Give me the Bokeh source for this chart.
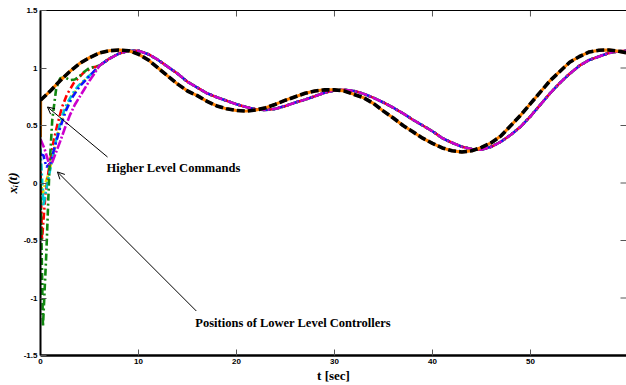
from bokeh.plotting import figure
from bokeh.models import Range1d, LinearAxis, FixedTicker, Label, Arrow, OpenHead
from bokeh.embed import file_html
from bokeh.resources import INLINE

# ---------------- data ----------------
x_ticks = [0, 10, 20, 30, 40, 50, 60]
x_tick_labels = ["0", "10", "20", "30", "40", "50", "60"]
y_ticks = [-1.5, -1, -0.5, 0, 0.5, 1, 1.5]
y_tick_labels = ["-1.5", "-1", "-0.5", "0", "0.5", "1", "1.5"]

# Higher level command (reference), t = 0..60 s
ref_t = list(range(0, 61))
ref_v = [0.72, 0.80, 0.89, 0.97, 1.04, 1.09, 1.13, 1.15, 1.157, 1.15,
         1.12, 1.07, 1.00, 0.93, 0.86, 0.80, 0.76, 0.71, 0.67, 0.645,
         0.63, 0.625, 0.635, 0.655, 0.685, 0.72, 0.75, 0.78, 0.80, 0.81,
         0.81, 0.80, 0.77, 0.74, 0.69, 0.625, 0.565, 0.50, 0.445, 0.39,
         0.345, 0.305, 0.28, 0.27, 0.28, 0.31, 0.35, 0.41, 0.50, 0.59,
         0.69, 0.79, 0.89, 0.97, 1.05, 1.10, 1.14, 1.155, 1.157, 1.145, 1.13]

# orange command starts below and jumps at t = 0
orange_start_t = [0.0, 0.02]
orange_start_v = [0.40, 0.72]

# Lower level controllers: common tracking part, t = 6..60 s
track_t = list(range(6, 61))
track_v = [1.02, 1.08, 1.125, 1.15, 1.15, 1.12, 1.07, 1.01, 0.95, 0.88,
           0.83, 0.78, 0.745, 0.715, 0.685, 0.66, 0.64, 0.635, 0.645, 0.67,
           0.70, 0.725, 0.755, 0.785, 0.805, 0.81, 0.80, 0.775, 0.74, 0.70,
           0.655, 0.605, 0.55, 0.50, 0.45, 0.39, 0.35, 0.315, 0.295, 0.29,
           0.315, 0.36, 0.42, 0.49, 0.58, 0.68, 0.78, 0.87, 0.95, 1.02,
           1.07, 1.10, 1.13, 1.145, 1.15]

# initial transients of each controller (t < 6 s)
yellow_t = [0.0, 0.2, 0.5, 0.9, 1.3, 1.8, 2.4, 3.0, 3.8, 4.8, 5.5]
yellow_v = [0.05, -0.10, 0.0, 0.10, 0.25, 0.44, 0.60, 0.72, 0.83, 0.92, 0.97]
red_t = [0.0, 0.15, 0.5, 0.9, 1.3, 1.7, 2.2, 2.7, 3.4, 4.4, 5.2]
red_v = [0.10, -0.50, -0.10, 0.15, 0.35, 0.50, 0.66, 0.77, 0.87, 0.96, 1.00]
cyan_t = [0.0, 0.3, 0.6, 0.9, 1.2, 1.7, 2.2, 2.7, 3.3, 3.8, 4.8, 5.5]
cyan_v = [0.30, -0.20, -0.05, 0.08, 0.20, 0.42, 0.58, 0.69, 0.78, 0.84, 0.92, 0.97]
blue_t = [0.0, 0.3, 0.6, 1.0, 1.5, 2.0, 2.6, 3.2, 4.0, 5.0]
blue_v = [0.25, 0.24, 0.14, 0.17, 0.33, 0.48, 0.63, 0.74, 0.84, 0.93]
green_t = [0.0, 0.25, 0.6, 0.9, 1.2, 1.6, 2.0, 2.5, 3.0, 3.5, 4.0, 4.5, 5.0]
green_v = [0.0, -1.25, -0.60, 0.10, 0.55, 0.82, 0.91, 0.92, 0.895, 0.90, 0.93, 0.97, 1.00]
magenta_t = [0.0, 0.4, 0.9, 1.2, 1.6, 2.0, 2.5, 3.0, 3.5, 4.0, 4.5, 5.0, 5.5]
magenta_v = [0.38, 0.30, 0.16, 0.18, 0.27, 0.36, 0.48, 0.59, 0.68, 0.75, 0.82, 0.89, 0.95]

label_high = "Higher Level Commands"
label_low = "Positions of Lower Level Controllers"
x_label = "t [sec]"
y_label = "x\u1d62(t)"

X_MIN, X_MAX = 0, 59.8
Y_MIN, Y_MAX = -1.5, 1.5

# ---------------- figure ----------------
p = figure(width=626, height=385, output_backend="svg", toolbar_location=None,
           x_range=Range1d(X_MIN, X_MAX), y_range=Range1d(Y_MIN, Y_MAX),
           min_border_left=40, min_border_right=0, min_border_top=10,
           min_border_bottom=30)
p.xgrid.visible = False
p.ygrid.visible = False
p.outline_line_color = None
p.background_fill_color = "white"
p.border_fill_color = "white"

tick_font = "Liberation Sans"
serif = "Liberation Serif"
for ax, ticks, labs in ((p.xaxis[0], x_ticks, x_tick_labels),
                        (p.yaxis[0], y_ticks, y_tick_labels)):
    ax.ticker = FixedTicker(ticks=ticks)
    ax.major_label_overrides = {t: l for t, l in zip(ticks, labs)}
    ax.major_tick_in = 6
    ax.major_tick_out = 0
    ax.minor_tick_line_color = None
    ax.major_tick_line_color = "#555555"
    ax.axis_line_color = "black"
    ax.major_label_text_font = tick_font
    ax.major_label_text_font_style = "bold"
    ax.major_label_text_font_size = "8px"
    ax.major_label_text_color = "black"
    ax.axis_label_text_font = serif
    ax.axis_label_text_font_style = "bold"
    ax.axis_label_text_color = "black"
p.xaxis[0].axis_line_width = 2.5
p.yaxis[0].axis_line_width = 2
p.xaxis[0].major_label_standoff = 3
p.yaxis[0].major_label_standoff = 3
p.xaxis[0].axis_label = x_label
p.xaxis[0].axis_label_text_font_size = "13px"
p.xaxis[0].axis_label_standoff = 1
p.yaxis[0].axis_label = y_label
p.yaxis[0].axis_label_text_font_size = "13px"
p.yaxis[0].axis_label_text_font_style = "bold italic"
p.yaxis[0].axis_label_standoff = 1

# top border line (no ticks of its own)
top = LinearAxis(ticker=FixedTicker(ticks=[]), axis_line_color="black",
                 axis_line_width=1.2, major_tick_line_color=None,
                 minor_tick_line_color=None)
p.add_layout(top, "above")

# mirrored inward ticks on the top and right edges
tick_len_y = (Y_MAX - Y_MIN) * 6 / 345.0
tick_len_x = (X_MAX - X_MIN) * 6 / 586.0
p.segment(x0=x_ticks, y0=[Y_MAX] * len(x_ticks), x1=x_ticks,
          y1=[Y_MAX - tick_len_y] * len(x_ticks), line_color="#555555", line_width=1)
p.segment(x0=[X_MAX] * len(y_ticks), y0=y_ticks, x1=[X_MAX - tick_len_x] * len(y_ticks),
          y1=y_ticks, line_color="#555555", line_width=1)

# ---------------- lines ----------------
def follower(tt, vv):
    return tt + track_t, vv + track_v

lw = 2.6
for (tt, vv), col, dash in (((yellow_t, yellow_v), "#e6e600", "7 3 2 3"),
                            ((red_t, red_v), "#ff0000", "7 3 2 3"),
                            ((cyan_t, cyan_v), "#00c8d2", "7 3 2 3"),
                            ((blue_t, blue_v), "#1010ff", "7 3 2 3"),
                            ((green_t, green_v), "#118811", "7 3 2 3"),
                            ((magenta_t, magenta_v), "#cc00cc", "9 2 2 2")):
    xs, ys = follower(tt, vv)
    p.line(xs, ys, line_color=col, line_width=lw, line_dash=dash)

p.line(orange_start_t + ref_t[1:], orange_start_v + ref_v[1:],
       line_color="#ff8000", line_width=3)
p.line(ref_t, ref_v, line_color="black", line_width=3.6, line_dash="8 3")

# ---------------- annotations ----------------
p.add_layout(Arrow(end=OpenHead(size=7, line_width=1, line_color="black"),
                   x_start=6.84, y_start=0.226, x_end=0.71, y_end=0.661,
                   line_width=1, line_color="black"))
p.add_layout(Arrow(end=OpenHead(size=7, line_width=1, line_color="black"),
                   x_start=15.9, y_start=-1.113, x_end=1.73, y_end=0.096,
                   line_width=1, line_color="black"))

p.add_layout(Label(x=6.73, y=0.13, text=label_high, text_font=serif,
                   text_font_size="12.5px", text_font_style="bold",
                   text_baseline="middle", text_align="left", text_color="black"))
p.add_layout(Label(x=15.8, y=-1.217, text=label_low, text_font=serif,
                   text_font_size="12.5px", text_font_style="bold",
                   text_baseline="middle", text_align="left", text_color="black"))

open("out.html", "w").write(file_html(p, INLINE))
